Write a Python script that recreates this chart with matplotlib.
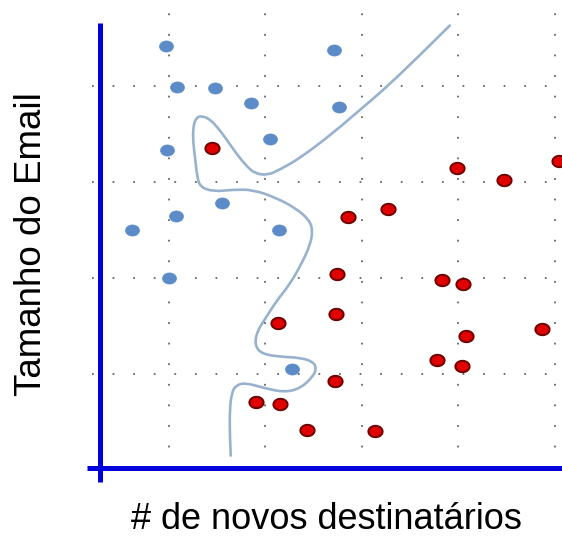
import numpy as np
import matplotlib
matplotlib.use("Agg")
import matplotlib.pyplot as plt
from matplotlib.path import Path
from matplotlib.patches import PathPatch

# data units: grid lines sit at whole numbers
blue_x = [0.97, 2.71, 1.08, 1.48, 1.85, 2.76, 2.05, 0.98, 1.55, 1.07, 0.62, 2.14, 1.00, 2.28]
blue_y = [4.42, 4.37, 3.99, 3.98, 3.82, 3.78, 3.45, 3.33, 2.78, 2.65, 2.50, 2.50, 2.00, 1.05]

red_x = [1.45, 2.86, 3.98, 4.47, 5.04, 3.27, 2.74, 2.73, 2.13, 2.72, 1.90, 2.15, 2.43, 3.14,
         3.83, 4.05, 4.87, 4.08, 3.78, 4.04]
red_y = [3.35, 2.64, 3.15, 3.02, 3.22, 2.72, 2.04, 1.63, 1.53, 0.93, 0.71, 0.69, 0.42, 0.41,
         1.98, 1.94, 1.47, 1.40, 1.15, 1.08]

# hand drawn boundary between the two classes
curve_x = [3.91, 3.55, 3.19, 3.00, 2.70, 2.36, 2.15, 2.02, 1.89, 1.81, 1.71, 1.60, 1.51, 1.43,
           1.34, 1.28, 1.25, 1.25, 1.27, 1.29, 1.32, 1.46, 1.66, 1.87, 2.10, 2.31, 2.46, 2.49,
           2.46, 2.38, 2.25, 2.12, 2.00, 1.91, 1.89, 1.96, 2.15, 2.36, 2.49, 2.53, 2.49, 2.36,
           2.20, 2.00, 1.79, 1.69, 1.65, 1.63, 1.63, 1.64]
curve_y = [4.63, 4.27, 3.93, 3.77, 3.51, 3.25, 3.13, 3.07, 3.09, 3.16, 3.28, 3.44, 3.56, 3.65,
           3.69, 3.67, 3.57, 3.42, 3.26, 3.07, 2.95, 2.90, 2.92, 2.92, 2.84, 2.73, 2.60, 2.48,
           2.34, 2.16, 1.93, 1.77, 1.58, 1.44, 1.30, 1.21, 1.18, 1.17, 1.13, 1.06, 0.97, 0.85,
           0.81, 0.85, 0.91, 0.88, 0.80, 0.63, 0.37, 0.15]

grid_x = [1, 2, 3, 4, 5]
grid_y = [1, 2, 3, 4]

xlabel = "# de novos destinatários"
ylabel = "Tamanho do Email"

plt.rcParams['font.family'] = ['Liberation Sans', 'DejaVu Sans']

fig = plt.figure(figsize=(5.62, 5.38), dpi=100)
ax = fig.add_axes([0, 0, 1, 1])
ax.set_xlim(-0.751, 5.073)
ax.set_ylim(-0.708, 4.896)
ax.axis("off")

# dotted grid
dots = (0, (1, 10.4))
ax.vlines(grid_x, 0.02, 4.79, colors="#666666", linestyles=[dots], linewidth=1.3)
ax.hlines(grid_y, 0.2, 5.1, colors="#666666", linestyles=[dots], linewidth=1.3)

# blue axes
ax.plot([0.285, 0.285], [-0.125, 4.656], color="#0000dd", lw=3.6, solid_capstyle="butt")
ax.plot([0.15, 5.1], [0.021, 0.021], color="#0000dd", lw=3.6, solid_capstyle="butt")

# smooth the hand drawn line: points act as quadratic control points
pts = np.column_stack([curve_x, curve_y])
verts = [pts[0]]
codes = [Path.MOVETO]
for i in range(1, len(pts) - 1):
    mid = (pts[i] + pts[i + 1]) / 2
    if i == len(pts) - 2:
        mid = pts[i + 1]
    verts += [pts[i], mid]
    codes += [Path.CURVE3, Path.CURVE3]
ax.add_patch(PathPatch(Path(verts, codes), fill=False, edgecolor="#98b2ce", lw=1.9,
                       joinstyle="round", capstyle="round"))

t = np.linspace(0, 2 * np.pi, 40)
ellipse = Path(np.column_stack([np.cos(t), 0.8 * np.sin(t)]), closed=True)

ax.scatter(blue_x, blue_y, marker=ellipse, s=100, color="#5b8cc8", edgecolors="#5b8cc8",
           linewidths=0.5, zorder=3)
ax.scatter(red_x, red_y, marker=ellipse, s=105, color="#e00000", edgecolors="#6e0000",
           linewidths=1.4, zorder=3)

fig.text(32 / 562, 1 - 244 / 538, ylabel, rotation=90, ha="center", va="center", fontsize=26.5)
fig.text(326 / 562, 1 - 529 / 538, xlabel, ha="center", va="baseline", fontsize=26)

fig.savefig("out.png", dpi=100)
